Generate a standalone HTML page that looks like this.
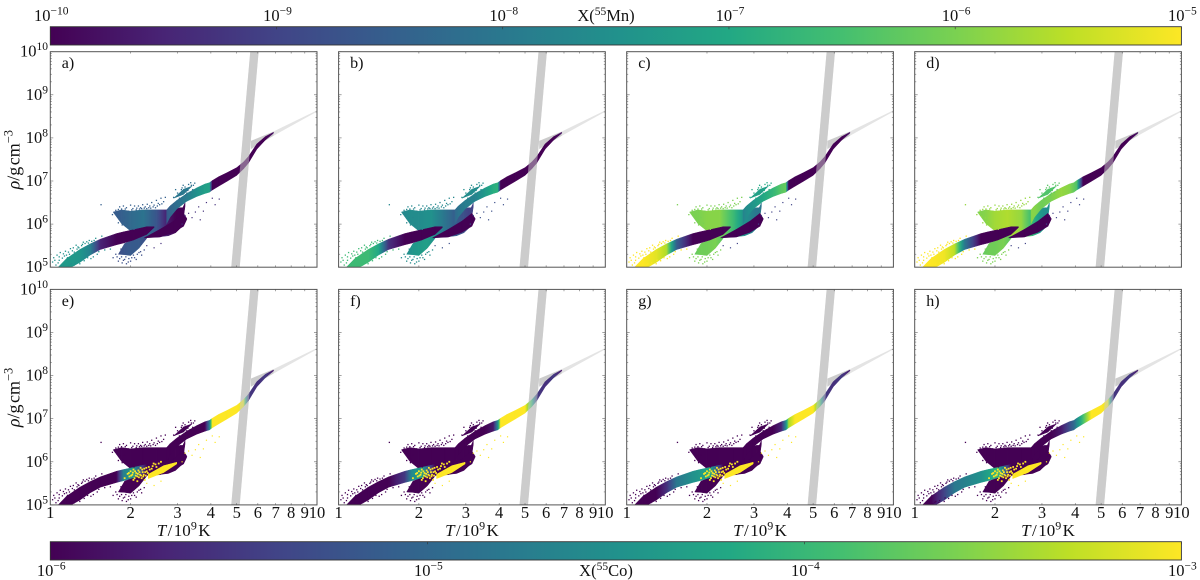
<!DOCTYPE html>
<html><head><meta charset="utf-8"><title>Mn and Co abundance in temperature-density plane</title>
<style>html,body{margin:0;padding:0;background:#fff}svg{display:block}text{font-family:"Liberation Serif",serif;fill:#111}</style>
</head><body>
<svg id="figure" xmlns="http://www.w3.org/2000/svg" width="1200" height="580" viewBox="0 0 1200 580"><defs id="defs"></defs></svg>
<script>
// ---- colormap ----
const viridis = ['#440154','#482475','#414487','#355f8d','#2a788e','#21918c','#22a884','#44bf70','#7ad151','#bddf26','#fde725'];
// ---- axis data ----
const xTickValues = [1,2,3,4,5,6,7,8,9,10];
const yDecades = [5,6,7,8,9,10];
const yMinorFactors = [2,3,4,5,6,7,8,9];
const panelLetters = ['a)','b)','c)','d)','e)','f)','g)','h)'];
const mnDecades = [-10,-9,-8,-7,-6,-5];
const coDecades = [-6,-5,-4,-3];
// ---- grey band (T in 1e9 K, log10 rho) ----
const bandT = [5.62,6.04,5.13,4.77];
const bandRho = [10,10,5,5];
const branchT = [5.65,6.87,6.87,5.65];
const branchRho = [7.93,8.15,8.05,7.74];
const branchFarT = [6.87,10,10,6.87];
const branchFarRho = [8.15,8.64,8.61,8.05];
// ---- tracer-cloud tracks: temperature, log10 density, half thickness ----
const wedgeT = [1.72,1.85,2.0,2.23,2.51,2.77,2.95,3.07,3.14,3.2];
const wedgeRho = [6.28,6.17,6.07,6.03,6.015,6.03,6.08,6.14,6.215,6.45];
const wedgeHalf = [0,0.16,0.23,0.3,0.315,0.3,0.28,0.24,0.165,0.04];
const spurT = [2.9,3.16,3.4];
const spurRho = [6.6,6.75,6.88];
const spurHalf = [0,0.06,0];
const forkT = [1.80,1.9,2.0,2.15,2.3];
const forkRho = [5.3,5.42,5.44,5.57,5.7];
const forkHalf = [0,0.13,0.17,0.13,0.03];
const mainT = [2.73,2.81,2.98,3.25,3.54,3.8,3.95,4.05,4.28,4.59,5.0,5.3,5.53,5.95,6.40,6.87];
const mainRho = [6.17,6.29,6.45,6.62,6.74,6.82,6.85,6.90,6.99,7.09,7.22,7.36,7.49,7.80,7.99,8.12];
const mainHalf = [0.16,0.13,0.1,0.09,0.1,0.11,0.11,0.11,0.11,0.1,0.09,0.08,0.075,0.06,0.04,0.01];
const tailT = [1.07,1.15,1.29,1.41,1.54,1.77,1.88,2.05,2.30,2.45];
const tailRho = [4.95,5.07,5.26,5.41,5.53,5.65,5.69,5.75,5.85,5.93];
const tailHalf = [0.05,0.13,0.15,0.13,0.12,0.13,0.13,0.12,0.09,0.01];
const lowerT = [2.25,2.58,2.90,3.16,3.25];
const lowerRho = [5.68,5.79,5.94,6.10,6.12];
const lowerHalf = [0,0.09,0.13,0.15,0.01];
const patchT = [2.33,2.66,2.98];
const patchRho = [5.66,5.83,5.97];
const patchHalf = [0.05,0.08,0.02];
// ---- log10 abundance at each track station, one row per panel a-h ----
const wedgeValues = [
 [-8.6,-8.5,-8.3,-8.1,-8.7,-9.7,-10,-10,-10,-10],
 [-7.7,-7.6,-7.6,-7.5,-8.1,-8.6,-8.8,-9,-9,-9],
 [-6,-6,-5.9,-5.9,-6.6,-7.5,-7.8,-8,-8,-8],
 [-6,-5.9,-5.7,-5.6,-5.8,-6.7,-7.3,-7.5,-7.5,-7.5],
 [-6,-6,-6,-6,-6,-6,-6,-6,-6,-6],[-6,-6,-6,-6,-6,-6,-6,-6,-6,-6],[-6,-6,-6,-6,-6,-6,-6,-6,-6,-6],[-6,-6,-6,-6,-6,-6,-6,-6,-6,-6]];
const spurValues = [[-8,-8,-8],[-7.6,-7.6,-7.6],[-7.2,-7.2,-7.2],[-6.4,-6.4,-6.4],[-6,-6,-6],[-6,-6,-6],[-6,-6,-6],[-6,-6,-6]];
const forkValues = [[-8.8,-8.7,-8.6,-8.6,-8.8],[-7.6,-7.4,-7.3,-7.2,-7.5],[-6.2,-6.1,-6.1,-6,-6.3],[-6.2,-6.1,-6.1,-6,-6.3],[-6,-6,-6,-6,-6],[-6,-6,-6,-6,-6],[-6,-6,-6,-6,-6],[-6,-6,-6,-6,-6]];
const mainValues = [
 [-8.6,-8.4,-8.2,-7.9,-7.5,-7.2,-7.1,-10,-10,-10,-10,-10,-10,-10,-10,-9.8],
 [-8.3,-8.1,-7.9,-7.8,-7.3,-6.9,-6.8,-10,-10,-10,-10,-10,-10,-10,-10,-9.8],
 [-7.8,-7.6,-7.4,-7,-6.7,-6.3,-6.2,-10,-10,-10,-10,-10,-10,-10,-10,-9.8],
 [-5.9,-5.9,-6.1,-6,-5.8,-5.9,-6.2,-6.4,-10,-10,-10,-10,-10,-10,-10,-9.8],
 [-6,-6,-6,-6,-6,-6,-4.8,-3,-3,-3,-3,-3.1,-5.5,-5.6,-5.5,-5.8],
 [-6,-6,-6,-6,-6,-5.8,-4.6,-3,-3,-3,-3,-4,-5.5,-5.6,-5.5,-5.8],
 [-6,-6,-6,-6,-6,-5.7,-4.6,-3.4,-3,-3,-3,-3.8,-5.5,-5.6,-5.5,-5.8],
 [-6,-6,-6,-6,-5.8,-5.3,-5,-4.6,-3.9,-3,-3,-3.1,-5.5,-5.6,-5.5,-5.8]];
const tailValues = [
 [-7.3,-7.3,-7.4,-7.8,-9.5,-10,-10,-10,-10,-10],
 [-6.6,-6.6,-6.6,-7,-9.3,-10,-10,-10,-10,-10],
 [-5,-5,-5.2,-5.6,-8.5,-10,-10,-10,-10,-10],
 [-5,-5,-5.1,-5.5,-8,-10,-10,-10,-10,-10],
 [-6,-6,-6,-6,-6,-6,-4.7,-4.4,-6,-6],
 [-6,-6,-6,-6,-6,-5.5,-4.6,-4.3,-6,-6],
 [-6,-6,-6,-5.6,-4.8,-4.5,-4.4,-4.2,-6,-6],
 [-6,-6,-5.4,-4.8,-4.7,-4.5,-4.3,-4,-6,-6]];
const lowerValues = [[-10,-10,-10,-10,-10],[-10,-10,-10,-10,-10],[-10,-10,-10,-10,-10],[-10,-10,-10,-10,-10],[-6,-6,-6,-6,-6],[-6,-6,-6,-6,-6],[-6,-6,-6,-6,-6],[-6,-6,-6,-6,-6]];
const patchValues = [null,null,null,null,[-3,-3,-3],[-3,-3,-3],[-3,-3,-3],[-3,-3,-3]];
// ---- isolated tracer particles: [T, log10 rho] ----
const tailStrays = [[1.02,5.12],[1.03,5.22],[1.05,5.05],[1.06,5.28],[1.08,5.16],[1.09,5.34],[1.1,5.04],[1.12,5.31],[1.14,5.37],[1.17,5.02],[1.17,5.35],[1.19,5.43],[1.2,5.08],[1.22,5.45],[1.24,5.1],[1.25,5.51],[1.27,5.47],[1.29,5.08],[1.31,5.5],[1.33,5.58],[1.34,5.15],[1.37,5.59],[1.4,5.62],[1.42,5.2],[1.45,5.24],[1.48,5.67],[1.5,5.3],[1.56,5.72],[1.6,5.4],[1.68,5.42],
 [1.04,5.16],[1.07,5.1],[1.08,5.24],[1.11,5.21],[1.13,5.26],[1.15,5.28],[1.16,5.22],[1.18,5.3],[1.21,5.38],[1.23,5.35],[1.26,5.42],[1.28,5.45],[1.3,5.16],[1.32,5.53],[1.35,5.55],[1.38,5.22],[1.39,5.56],[1.43,5.6],[1.46,5.62],[1.52,5.36],[1.12,5.05],[1.15,5.01],[1.19,5.06],[1.23,5.05]];
const wedgeStrays = [[1.55,6.45],[1.71,6.22],[1.76,6.32],[1.78,6.18],[1.82,6.4],[1.85,6.35],[1.88,6.42],[1.9,6.15],[1.93,6.38],[1.96,6.3],[2.0,6.44],[2.04,6.36],[2.07,6.42],[2.1,6.33],[2.14,6.42],[2.18,6.38],[2.22,6.45],[2.27,6.4],[2.31,6.46],[2.36,6.42],[2.4,6.5],[2.45,6.44],[2.5,6.55],[2.54,6.48],[2.6,6.6],[2.66,6.52],[2.7,6.62],[1.8,6.03],[1.86,5.98],[1.92,5.96],
 [1.75,6.24],[1.8,6.34],[1.84,6.14],[1.87,6.06],[1.91,6.35],[1.94,6.02],[1.98,5.9],[2.02,6.33],[2.06,5.88],[2.11,6.37],[2.16,6.35],[2.2,6.36],[2.25,6.37],[2.3,6.36],[2.34,6.38],[2.38,6.37],[2.43,6.4],[2.48,6.38],[2.52,6.42],[2.57,6.45],[2.62,6.47]];
const forkStrays = [[1.72,5.22],[1.76,5.3],[1.8,5.14],[1.84,5.42],[1.86,5.1],[1.9,5.18],[1.93,5.08],[1.97,5.2],[2.0,5.14],[2.05,5.28],[2.1,5.18],[2.15,5.34],[2.2,5.28],[2.25,5.4],[1.78,5.24],[1.82,5.2],[1.85,5.24],[1.88,5.16],[1.92,5.24],[1.96,5.12],[2.02,5.22],[2.07,5.22],[2.12,5.3],[2.18,5.36]];
const outerStrays = [[2.3,5.5],[2.45,5.45],[2.6,5.55],[3.12,6.0],[3.2,6.2],[3.3,6.25],[3.4,6.15],[3.5,6.28],[3.6,6.4],[3.65,6.1],[3.75,6.3],[3.85,6.5],[4.05,6.6],[4.3,6.58],[4.15,6.45]];
const spurStrays = [[2.9,6.62],[3.0,6.72],[3.05,6.6],[3.1,6.8],[3.2,6.86],[3.25,6.72],[3.3,6.92],[3.38,6.9],[3.42,6.8],[3.48,6.95],[2.95,6.8],[3.15,6.9],[3.02,6.66],[3.08,6.7],[3.12,6.84],[3.22,6.68],[3.28,6.78],[3.34,6.74],[3.36,6.96],[3.44,6.9]];
const patchStrays = [[1.95,5.72],[1.98,5.66],[2.0,5.78],[2.03,5.7],[2.05,5.82],[2.07,5.62],[2.1,5.74],[2.12,5.66],[2.14,5.8],[2.17,5.7],[2.2,5.62],[2.22,5.76],[2.25,5.84],[2.28,5.68],[2.3,5.78],[2.34,5.88],[2.38,5.72],[2.42,5.9],[2.48,5.94],[2.55,5.96],[2.12,5.55],[2.05,5.58],[2.18,5.86],[2.26,5.58],[1.9,5.62],
 [1.97,5.74],[2.01,5.68],[2.04,5.75],[2.08,5.78],[2.09,5.68],[2.13,5.72],[2.16,5.76],[2.19,5.68],[2.21,5.82],[2.24,5.7],[2.27,5.76],[2.29,5.86],[2.32,5.74],[2.36,5.82],[2.4,5.84],[2.44,5.96],[2.5,5.88],[2.6,6.0],[2.15,5.64],[2.23,5.66]];
// log10 abundance of each particle group per panel: tail, wedge, fork, outer, spur, patch
const strayValues = [[-7.5,-8.5,-8.8,-9.3,-8.2,null],[-6.6,-7.7,-7.6,-8.8,-7.6,null],[-5,-6,-6,-9,-7,null],[-5,-5.8,-6,-9,-6.3,null],[-6,-6,-6,-3,-6,-3],[-6,-6,-6,-3,-6,-3],[-6,-6,-6,-3,-6,-3],[-6,-6,-6,-3,-6,-3]];

// ---- layout ----
const panelLefts = [50.3,338.6,626.7,914.7];
const panelTops = [51.7,289.4];
const panelW = 266.7, panelH = 215.5;
const SVGNS = 'http://www.w3.org/2000/svg';
const fig = document.getElementById('figure');
const defs = document.getElementById('defs');
let gradId = 0;

function make(tag, parent, attrs) {
  const e = document.createElementNS(SVGNS, tag);
  for (const k in attrs) e.setAttribute(k, attrs[k]);
  parent.appendChild(e);
  return e;
}
function hexRgb(h){return [1,3,5].map(i=>parseInt(h.substr(i,2),16));}
function cmap(t){
  t=Math.max(0,Math.min(1,t))*(viridis.length-1);
  const i=Math.min(viridis.length-2,Math.floor(t)),f=t-i;
  const a=hexRgb(viridis[i]),b=hexRgb(viridis[i+1]);
  return 'rgb('+a.map((v,k)=>Math.round(v+(b[k]-v)*f)).join(',')+')';
}
function xScale(left,T){return left+panelW*Math.log10(T);}
function yScale(top,logRho){return top+panelH*(10-logRho)/5;}

function powerLabel(parent,x,y,exp,anchor,name){
  const t=make('text',parent,{x:x,y:y,'font-size':16.5,'text-anchor':anchor});
  
  
  t.appendChild(document.createTextNode('10'));
  const s=make('tspan',t,{'font-size':11.5,dy:-6.5});
  s.textContent=String(exp).replace('-','\u2212');
  return t;
}
function polygon(parent,left,top,Ts,Rs,fill,name,opacity){
  const pts=Ts.map((T,i)=>xScale(left,T).toFixed(2)+','+yScale(top,Rs[i]).toFixed(2)).join(' ');
  const p=make('polygon',parent,{points:pts,fill:fill});
  if(opacity!==undefined)p.setAttribute('opacity',opacity);
  
  
  return p;
}
function ribbon(parent,left,top,Ts,Rs,Hs,Vs,toColor,name){
  for(let i=0;i<Ts.length-1;i++){
    const x0=xScale(left,Ts[i]),x1=xScale(left,Ts[i+1]);
    const pts=[[x0,yScale(top,Rs[i]+Hs[i])],[x1,yScale(top,Rs[i+1]+Hs[i+1])],[x1,yScale(top,Rs[i+1]-Hs[i+1])],[x0,yScale(top,Rs[i]-Hs[i])]];
    let fill;
    if(Vs[i]===Vs[i+1]){fill=toColor(Vs[i]);}
    else{
      const id='grad'+(gradId++);
      const g=make('linearGradient',defs,{id:id,gradientUnits:'userSpaceOnUse',x1:x0,x2:x1,y1:0,y2:0});
      for(let k=0;k<=4;k++){make('stop',g,{offset:k/4,'stop-color':toColor(Vs[i]+(Vs[i+1]-Vs[i])*k/4)});}
      fill='url(#'+id+')';
    }
    const q=make('polygon',parent,{points:pts.map(p=>p[0].toFixed(2)+','+p[1].toFixed(2)).join(' '),fill:fill,stroke:fill,'stroke-width':0.5});
    
    
  }
}
function strays(parent,left,top,list,value,toColor,size,name){
  if(value===null)return;
  list.forEach(function(d){
    const r=make('rect',parent,{x:xScale(left,d[0])-size/2,y:yScale(top,d[1])-size/2,width:size,height:size,fill:toColor(value)});
    
    
  });
}

function drawColorbar(y,h,decades,label,name,titleY,labelY){
  const id='cbar'+name;
  const g=make('linearGradient',defs,{id:id,x1:0,x2:1,y1:0,y2:0});
  viridis.forEach((c,i)=>make('stop',g,{offset:i/(viridis.length-1),'stop-color':c}));
  const left=50.3,w=1131.1;
  const group=make('g',fig,{});
  
  
  const r=make('rect',group,{x:left,y:y,width:w,height:h,fill:'url(#'+id+')',stroke:'#333','stroke-width':0.9});
  
  
  const lo=decades[0],hi=decades[decades.length-1];
  decades.forEach(function(d){
    const x=left+w*(d-lo)/(hi-lo);
    const t=make('line',group,{x1:x,x2:x,y1:y,y2:y+2.5,stroke:'#333','stroke-width':0.6});
    
    
    powerLabel(group,x+1,labelY,d,'middle',name+'-colorbar-tick-label');
  });
  const tx=make('text',group,{x:606,y:titleY,'font-size':16.5,'text-anchor':'middle'});
  
  
  tx.appendChild(document.createTextNode('X('));
  const s=make('tspan',tx,{'font-size':11.5,dy:-6});s.textContent='55';
  const rest=make('tspan',tx,{dy:6});rest.textContent=label+')';
}

function drawPanel(idx){
  const col=idx%4,row=idx<4?0:1,left=panelLefts[col],top=panelTops[row];
  const isMn=idx<4;
  const toColor=isMn?(v=>cmap((v+10)/5)):(v=>cmap((v+6)/3));
  const clipId='clip'+idx;
  const cp=make('clipPath',defs,{id:clipId});
  make('rect',cp,{x:left,y:top,width:panelW,height:panelH});
  const panel=make('g',fig,{});
  
  
  const clipped=make('g',panel,{'clip-path':'url(#'+clipId+')'});
  const plot=make('g',clipped,{style:'filter:blur(0.35px)'});
  // grey band
  polygon(plot,left,top,branchFarT,branchFarRho,'#e4e4e4','nse-branch-far');
  polygon(plot,left,top,bandT,bandRho,'#cccccc','nse-band');
  polygon(plot,left,top,branchT,branchRho,'#cccccc','nse-branch');
  // tracks
  ribbon(plot,left,top,wedgeT,wedgeRho,wedgeHalf,wedgeValues[idx],toColor,'upper-fork');
  ribbon(plot,left,top,spurT,spurRho,spurHalf,spurValues[idx],toColor,'spur');
  ribbon(plot,left,top,forkT,forkRho,forkHalf,forkValues[idx],toColor,'lower-fork');
  ribbon(plot,left,top,mainT,mainRho,mainHalf,mainValues[idx],toColor,'main-track');
  ribbon(plot,left,top,tailT,tailRho,tailHalf,tailValues[idx],toColor,'cool-tail');
  ribbon(plot,left,top,lowerT,lowerRho,lowerHalf,lowerValues[idx],toColor,'lower-track');
  if(patchValues[idx])ribbon(plot,left,top,patchT,patchRho,patchHalf,patchValues[idx],toColor,'yellow-patch');
  // particles
  const sv=strayValues[idx];
  strays(plot,left,top,tailStrays,sv[0],toColor,1.3,'tail-particle');
  strays(plot,left,top,wedgeStrays,sv[1],toColor,1.3,'fork-particle');
  strays(plot,left,top,forkStrays,sv[2],toColor,1.3,'lower-fork-particle');
  strays(plot,left,top,outerStrays,sv[3],toColor,1.2,'outlier-particle');
  strays(plot,left,top,spurStrays,sv[4],toColor,1.3,'spur-particle');
  strays(plot,left,top,patchStrays,sv[5],toColor,1.8,'yellow-particle');
  // band overlay
  polygon(plot,left,top,bandT,bandRho,'#cccccc','nse-band-overlay',0.5);
  // ticks
  const ticks=make('g',panel,{stroke:'#666','stroke-width':0.6,fill:'none'});
  
  
  xTickValues.forEach(function(v){
    const x=xScale(left,v);
    const a=make('line',ticks,{x1:x,x2:x,y1:top,y2:top+1.8});
    
    
    const b=make('line',ticks,{x1:x,x2:x,y1:top+panelH,y2:top+panelH-1.8});
    
    
  });
  yDecades.forEach(function(d){
    const y=yScale(top,d);
    const a=make('line',ticks,{x1:left,x2:left+3,y1:y,y2:y});
    
    
    const b=make('line',ticks,{x1:left+panelW,x2:left+panelW-3,y1:y,y2:y});
    
    
    if(d<10)yMinorFactors.forEach(function(m){
      const ym=yScale(top,d+Math.log10(m));
      const c=make('line',ticks,{x1:left,x2:left+1.5,y1:ym,y2:ym});
      
      
      const e=make('line',ticks,{x1:left+panelW,x2:left+panelW-1.5,y1:ym,y2:ym});
      
      
    });
  });
  const frame=make('rect',panel,{x:left,y:top,width:panelW,height:panelH,fill:'none',stroke:'#555','stroke-width':1});
  
  
  const letter=make('text',panel,{x:left+11.5,y:top+16.5,'font-size':16});
  
  
  letter.textContent=panelLetters[idx];
  if(col===0){
    yDecades.forEach(function(d){
      powerLabel(panel,48,yScale(top,d)+5,d,'end','y-tick-label');
    });
    const cx=19.5,cy=top+108;
    const yt=make('text',panel,{x:cx,y:cy,'font-size':18,'text-anchor':'middle',transform:'rotate(-90 '+cx+' '+cy+')'});
    
    
    const r1=make('tspan',yt,{'font-style':'italic'});r1.textContent='\u03c1';
    const r2=make('tspan',yt,{});r2.textContent='/g\u200acm';
    const r3=make('tspan',yt,{'font-size':12.5,dy:-7});r3.textContent='\u22123';
  }
  if(row===1){
    xTickValues.forEach(function(v){
      const t=make('text',panel,{x:xScale(left,v),y:518,'font-size':16.5,'text-anchor':'middle'});
      
      
      t.textContent=v;
    });
    const xt=make('text',panel,{x:left+panelW/2,y:536,'font-size':17,'text-anchor':'middle'});
    
    
    const a1=make('tspan',xt,{'font-style':'italic'});a1.textContent='T';
    const a2=make('tspan',xt,{});a2.textContent='\u200a/\u200a10';
    const a3=make('tspan',xt,{'font-size':12,dy:-6.5});a3.textContent='9';
    const a4=make('tspan',xt,{dy:6.5});a4.textContent='\u200aK';
  }
}

drawColorbar(26.7,18.3,mnDecades,'Mn','manganese',21,21);
for(let i=0;i<8;i++)drawPanel(i);
drawColorbar(541.7,18.3,coDecades,'Co','cobalt',576,576);
</script>
</body></html>
